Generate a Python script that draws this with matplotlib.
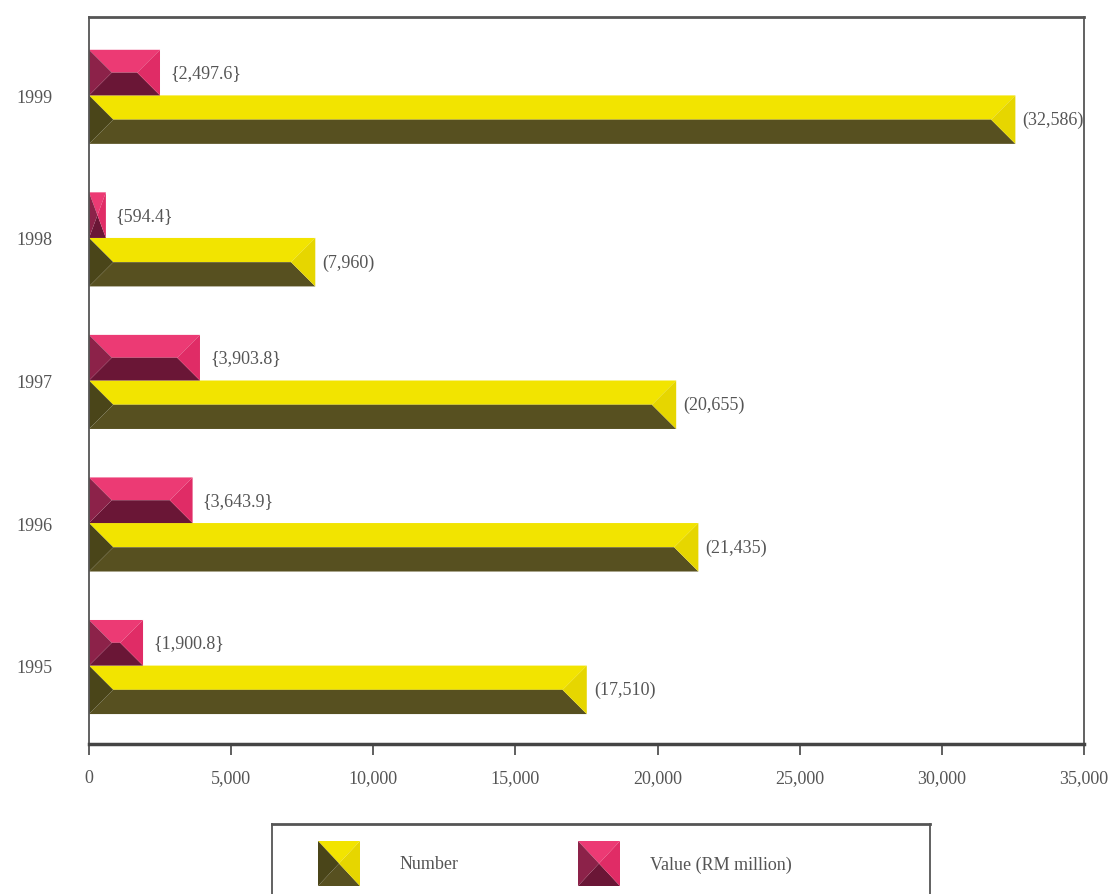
import matplotlib
matplotlib.use("Agg")
import matplotlib.pyplot as plt
from matplotlib.patches import Polygon

years = ["1995", "1996", "1997", "1998", "1999"]
number = [17510, 21435, 20655, 7960, 32586]
value = [1900.8, 3643.9, 3903.8, 594.4, 2497.6]
number_labels = ["(17,510)", "(21,435)", "(20,655)", "(7,960)", "(32,586)"]
value_labels = ["{1,900.8}", "{3,643.9}", "{3,903.8}", "{594.4}", "{2,497.6}"]
xticks = [0, 5000, 10000, 15000, 20000, 25000, 30000, 35000]
xticklabels = ["0", "5,000", "10,000", "15,000", "20,000", "25,000", "30,000", "35,000"]

W, H = 1109, 895
fig = plt.figure(figsize=(W / 100, H / 100), dpi=100)
ax = fig.add_axes([89 / W, 150 / H, 995 / W, 727 / H])
ax.set_xlim(0, 35000)
ax.set_ylim(-0.55, 4.55)

YEL = dict(top="#F2E400", right="#E6D600", bottom="#575020", left="#4A4519")
PNK = dict(top="#EC3A74", right="#E02C66", bottom="#6A1636", left="#8C2249")

px_x = 995 / 35000.0
px_y = 727 / 5.1


def bevel_bar(a, x0, x1, yb, yt, cols, sx=px_x, sy=px_y):
    ym = (yb + yt) / 2
    b = (yt - ym) * sy / sx
    b = min(b, (x1 - x0) / 2)
    a.add_patch(Polygon([(x0, yt), (x1, yt), (x1 - b, ym), (x0 + b, ym)], closed=True,
                        fc=cols["top"], ec="none"))
    a.add_patch(Polygon([(x0, yb), (x1, yb), (x1 - b, ym), (x0 + b, ym)], closed=True,
                        fc=cols["bottom"], ec="none"))
    a.add_patch(Polygon([(x0, yt), (x0, yb), (x0 + b, ym)], closed=True,
                        fc=cols["left"], ec="none"))
    a.add_patch(Polygon([(x1, yt), (x1, yb), (x1 - b, ym)], closed=True,
                        fc=cols["right"], ec="none"))


hn = 0.34
hv = 0.32
txtkw = dict(family="Liberation Serif", fontsize=13, color="#555555", va="center")
for i in range(len(years)):
    bevel_bar(ax, 0, number[i], i - hn, i, YEL)
    bevel_bar(ax, 0, value[i], i, i + hv, PNK)
    ax.text(number[i] + 250, i - hn / 2, number_labels[i], ha="left", **txtkw)
    ax.text(value[i] + 350, i + hv / 2, value_labels[i], ha="left", **txtkw)

ax.set_yticks(range(len(years)))
ax.set_yticklabels(years, family="Liberation Serif", fontsize=13, color="#555555")
ax.tick_params(axis="y", length=0, pad=26)
ax.set_xticks(xticks)
ax.set_xticklabels(xticklabels, family="Liberation Serif", fontsize=13, color="#555555")
ax.tick_params(axis="x", length=8, direction="out", pad=10, color="#444444", width=1.2)
for s in ax.spines.values():
    s.set_color("#555555")
    s.set_linewidth(1.3)
ax.spines["bottom"].set_linewidth(2.5)
ax.spines["bottom"].set_color("#444444")
ax.spines["top"].set_linewidth(2)

# Legend box
lax = fig.add_axes([272 / W, -20 / H, 658 / W, 90 / H])
lax.set_xlim(0, 658)
lax.set_ylim(0, 90)
lax.set_xticks([])
lax.set_yticks([])
for s in lax.spines.values():
    s.set_color("#555555")
    s.set_linewidth(1.3)
lax.spines["top"].set_linewidth(2)
bevel_bar(lax, 46, 88, 28, 73, YEL, 1, 1)
bevel_bar(lax, 306, 348, 28, 73, PNK, 1, 1)
lax.text(128, 50, "Number", family="Liberation Serif", fontsize=13, color="#555555", va="center")
lax.text(378, 50, "Value (RM million)", family="Liberation Serif", fontsize=13, color="#555555", va="center")

fig.savefig("out.png", dpi=100)
